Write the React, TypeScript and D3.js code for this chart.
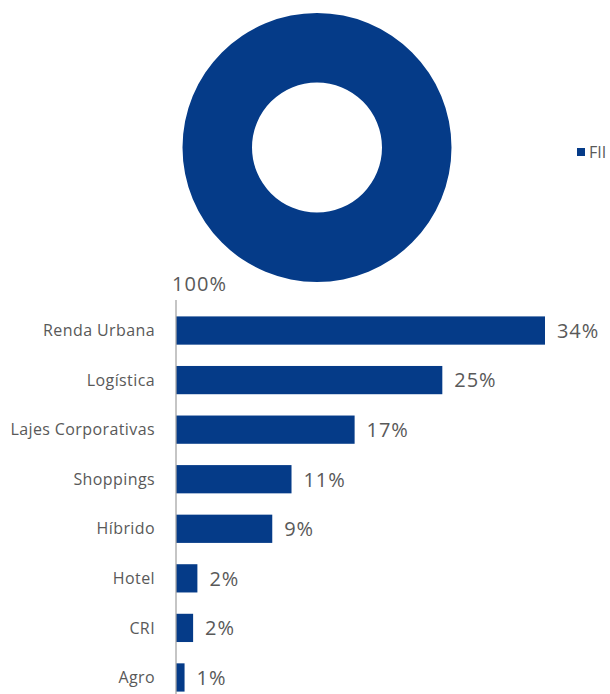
import React from "react";
import * as d3 from "d3";

const pieLabels = ["FII"];
const pieValues = [100];
const categories = ["Renda Urbana", "Logística", "Lajes Corporativas", "Shoppings", "Híbrido", "Hotel", "CRI", "Agro"];
const values = [34.5, 24.9, 16.7, 10.8, 9.0, 2.0, 1.6, 0.8];
const valueLabels = ["34%", "25%", "17%", "11%", "9%", "2%", "2%", "1%"];

const BLUE = "#053B88";
const GREY = "#595959";
const FONT = "'Open Sans', sans-serif";

export default function App() {
  const W = 610, H = 694;
  const cx = 317, cy = 147.5, rOuter = 134.5, rInner = 65;
  const pie = d3.pie<number>().sort(null)(pieValues);
  const arc = d3.arc<d3.PieArcDatum<number>>().innerRadius(rInner).outerRadius(rOuter);

  const x0 = 176;
  const x = d3.scaleLinear().domain([0, 34.5]).range([0, 369]);
  const y = d3.scaleBand<string>().domain(categories).range([306, 702]).paddingInner(0.43).paddingOuter(0.21);

  return (
    <svg width={W} height={H} style={{ position: "absolute", left: 0, top: 0, display: "block" }}>
      <g transform={`translate(${cx},${cy})`}>
        {pie.map((d, i) => (
          <path key={i} d={arc(d) || ""} fill={BLUE} />
        ))}
      </g>
      <text x={172} y={291} fontFamily={FONT} fontSize={20} letterSpacing={1.1} fill={GREY}>{"100%"}</text>
      {pieLabels.map((l, i) => (
        <g key={l}>
          <rect x={577} y={148 + i * 20} width={8} height={8} fill={BLUE} />
          <text x={589} y={157.5 + i * 20} fontFamily={FONT} fontSize={16} fill={GREY}>{l}</text>
        </g>
      ))}
      {categories.map((c, i) => {
        const yy = y(c)!;
        const bw = y.bandwidth();
        return (
          <g key={c}>
            <rect x={x0} y={yy} width={x(values[i])} height={bw} fill={BLUE} />
            <text x={155} y={yy + bw / 2} dy="0.35em" textAnchor="end" fontFamily={FONT} fontSize={16} letterSpacing={0.4} fill={GREY}>{c}</text>
            <text x={x0 + x(values[i]) + 12} y={yy + bw / 2} dy="0.37em" fontFamily={FONT} fontSize={20} letterSpacing={0.9} fill={GREY}>{valueLabels[i]}</text>
          </g>
        );
      })}
      <line x1={x0} x2={x0} y1={300} y2={H} stroke="#A6A6A6" strokeWidth={1.3} />
    </svg>
  );
}
